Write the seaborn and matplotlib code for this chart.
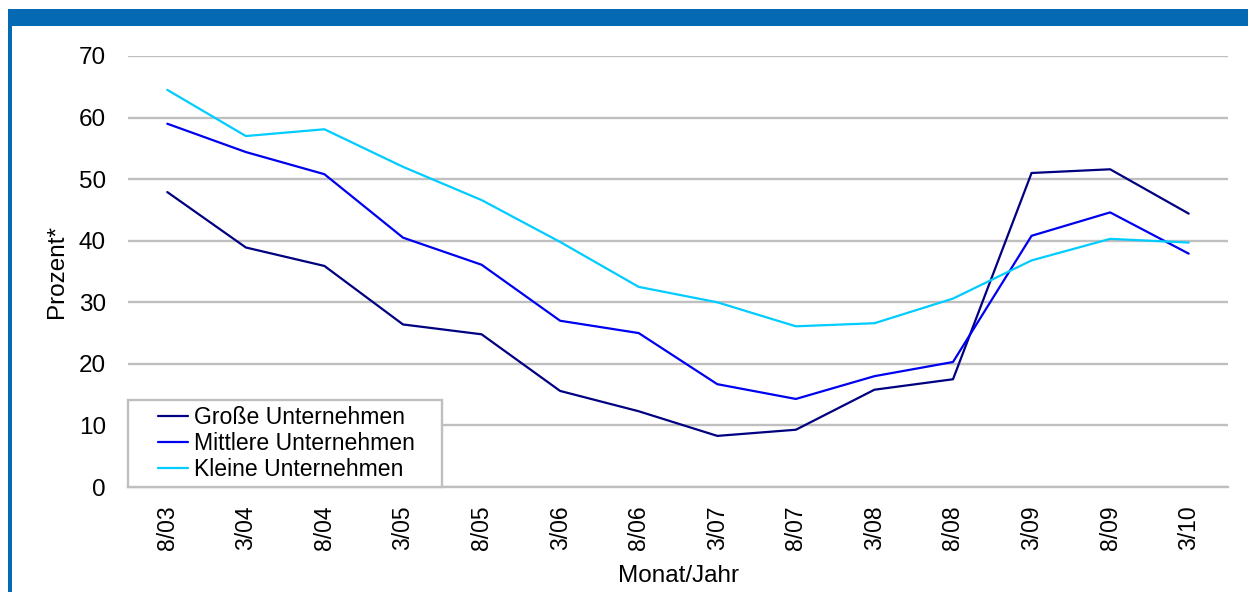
import matplotlib
matplotlib.use("Agg")
import matplotlib.pyplot as plt
from matplotlib.patches import Rectangle
import seaborn as sns
import pandas as pd

# Data
months = ["8/03", "3/04", "8/04", "3/05", "8/05", "3/06", "8/06",
          "3/07", "8/07", "3/08", "8/08", "3/09", "8/09", "3/10"]
grosse = [47.9, 38.9, 35.9, 26.4, 24.8, 15.6, 12.3, 8.3, 9.3, 15.8, 17.5, 51.0, 51.6, 44.4]
mittlere = [59.0, 54.4, 50.8, 40.5, 36.1, 27.0, 25.0, 16.7, 14.3, 18.0, 20.3, 40.8, 44.6, 37.9]
kleine = [64.5, 57.0, 58.1, 52.0, 46.6, 39.8, 32.5, 30.0, 26.1, 26.6, 30.6, 36.8, 40.3, 39.7]

series_names = ["Große Unternehmen", "Mittlere Unternehmen", "Kleine Unternehmen"]
colors = ["#000080", "#0000F0", "#00CCFF"]

df = pd.DataFrame({
    "Monat": months * 3,
    "Prozent": grosse + mittlere + kleine,
    "Serie": [series_names[0]] * len(months) + [series_names[1]] * len(months)
             + [series_names[2]] * len(months),
})

sns.set_style("white")
plt.rcParams["font.family"] = ["Liberation Sans", "DejaVu Sans"]
plt.rcParams["text.color"] = "black"
plt.rcParams["axes.labelcolor"] = "black"
plt.rcParams["xtick.labelcolor"] = "black"
plt.rcParams["ytick.labelcolor"] = "black"

fig = plt.figure(figsize=(12.48, 5.92), dpi=100)
ax = fig.add_axes([128 / 1248, 1 - 487 / 592, 1100 / 1248, 431 / 592])

sns.lineplot(data=df, x="Monat", y="Prozent", hue="Serie", palette=colors,
             sort=False, linewidth=1.6, ax=ax, legend=False, zorder=3)

ax.set_xlim(-0.5, len(months) - 0.5)
ax.set_ylim(0, 70)
ax.set_yticks(range(0, 71, 10))
ax.set_xticks(range(len(months)))
ax.set_xticklabels(months, rotation=90, fontsize=16.5)
ax.set_xticks([i - 0.5 for i in range(len(months) + 1)], minor=True)
ax.tick_params(axis="x", which="major", length=0, pad=13)
ax.tick_params(axis="x", which="minor", length=5, width=1.5, color="#BFBFBF", direction="out")
ax.tick_params(axis="y", length=0, pad=16, labelsize=17.5)

ax.grid(axis="y", color="#BFBFBF", linewidth=1.7, zorder=0)
ax.set_axisbelow(True)
for side in ["top", "right", "left"]:
    ax.spines[side].set_visible(False)
ax.spines["bottom"].set_color("#BFBFBF")
ax.spines["bottom"].set_linewidth(1.7)
ax.spines["bottom"].set_zorder(4)

ax.set_xlabel("Monat/Jahr", fontsize=17.5)
ax.set_ylabel("Prozent*", fontsize=17.5)
ax.xaxis.set_label_coords(0.5, -0.181)
ax.yaxis.set_label_coords(-0.0545, 0.5)

# legend box drawn by hand (wide side padding, tight top/bottom)
ax.add_patch(Rectangle((0, 0), 314 / 1100, 87 / 431, transform=ax.transAxes,
                       facecolor="white", edgecolor="#BFBFBF", linewidth=1.7,
                       zorder=5, clip_on=False))
handles = [plt.Line2D([], [], color=c, linewidth=1.6) for c in colors]
leg = ax.legend(handles, series_names, loc="center left",
                bbox_to_anchor=(18 / 1100, 43.5 / 431), frameon=False,
                fontsize=16.6, borderpad=0, labelspacing=0.14,
                handlelength=1.3, handletextpad=0.3)
leg.set_zorder(6)

# blue frame band at top and left
fig.patches.append(Rectangle((8 / 1248, 1 - 26 / 592), 1 - 8 / 1248, 17 / 592,
                             transform=fig.transFigure, facecolor="#0569B3",
                             edgecolor="none"))
fig.patches.append(Rectangle((8 / 1248, 0), 4 / 1248, 1 - 26 / 592,
                             transform=fig.transFigure, facecolor="#0569B3",
                             edgecolor="none"))

fig.savefig("out.png", dpi=100)
